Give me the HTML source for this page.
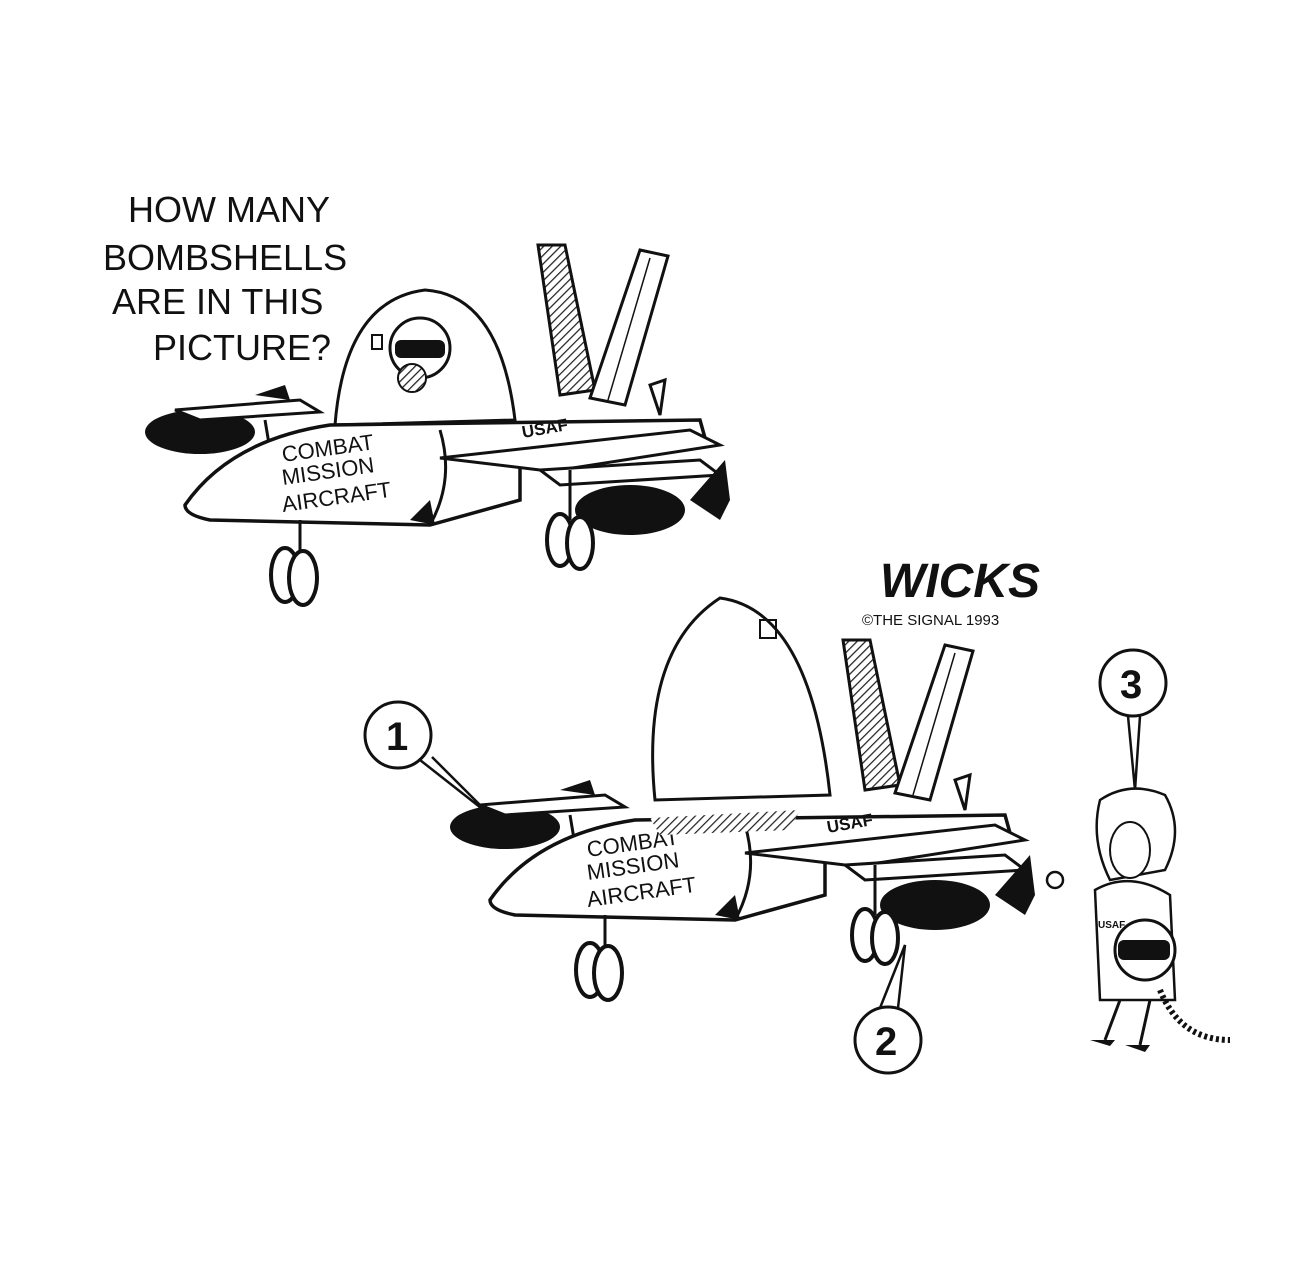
<!DOCTYPE html>
<html><head><meta charset="utf-8">
<style>
html,body{margin:0;padding:0;background:#fff;}
svg{display:block;}
text{font-family:"Liberation Sans",sans-serif;font-weight:bold;fill:#111;}
text.n{font-weight:normal;}
</style></head>
<body>
<svg width="1314" height="1284" viewBox="0 0 1314 1284" xmlns="http://www.w3.org/2000/svg">
<defs>
<pattern id="h" width="6" height="6" patternUnits="userSpaceOnUse" patternTransform="rotate(45)">
<rect width="6" height="6" fill="#fff"/><line x1="0" y1="0" x2="0" y2="6" stroke="#222" stroke-width="2.5"/></pattern>
<g id="plane">
 <ellipse cx="200" cy="432" rx="55" ry="22" fill="#111"/>
 <polygon points="175,410 300,400 320,412 200,420" fill="#fff" stroke="#111" stroke-width="3"/>
 <polygon points="255,395 285,385 290,400" fill="#111"/>
 <line x1="265" y1="420" x2="270" y2="450" stroke="#111" stroke-width="3"/>
 <polygon points="538,245 565,245 595,390 560,395" fill="url(#h)" stroke="#111" stroke-width="3"/>
 <polygon points="640,250 668,256 625,405 590,398" fill="#fff" stroke="#111" stroke-width="3"/>
 <line x1="650" y1="258" x2="608" y2="400" stroke="#111" stroke-width="1.5"/>
 <polygon points="650,385 665,380 660,415" fill="#fff" stroke="#111" stroke-width="3"/>
 <path d="M185,505 Q230,440 330,425 L700,420 L705,438 L520,460 L520,500 L430,525 L210,520 Q185,515 185,505 Z" fill="#fff" stroke="#111" stroke-width="3.5"/>
 <path d="M440,430 Q455,480 430,525" fill="none" stroke="#111" stroke-width="3"/>
 <polygon points="410,520 430,500 435,525" fill="#111"/>
 <polygon points="440,458 690,430 720,445 560,470 540,470" fill="#fff" stroke="#111" stroke-width="3"/>
 <polygon points="540,470 700,460 720,475 560,485" fill="#fff" stroke="#111" stroke-width="3"/>
 <ellipse cx="630" cy="510" rx="55" ry="25" fill="#111"/>
 <polygon points="690,500 725,460 730,500 720,520" fill="#111"/>
 <line x1="300" y1="520" x2="300" y2="555" stroke="#111" stroke-width="3"/>
 <ellipse cx="285" cy="575" rx="14" ry="27" fill="#fff" stroke="#111" stroke-width="4"/>
 <ellipse cx="303" cy="578" rx="14" ry="27" fill="#fff" stroke="#111" stroke-width="4"/>
 <line x1="570" y1="470" x2="570" y2="520" stroke="#111" stroke-width="3"/>
 <ellipse cx="560" cy="540" rx="13" ry="26" fill="#fff" stroke="#111" stroke-width="4"/>
 <ellipse cx="580" cy="543" rx="13" ry="26" fill="#fff" stroke="#111" stroke-width="4"/>
 <text class="n" transform="translate(283,462) rotate(-8)" font-size="22">COMBAT</text>
 <text class="n" transform="translate(283,485) rotate(-8)" font-size="22">MISSION</text>
 <text class="n" transform="translate(283,512) rotate(-8)" font-size="22">AIRCRAFT</text>
 <text transform="translate(523,438) rotate(-10)" font-size="17">USAF</text>
</g>
</defs>

<text class="n" x="128" y="222" font-size="36">HOW MANY</text>
<text class="n" x="103" y="270" font-size="36">BOMBSHELLS</text>
<text class="n" x="112" y="314" font-size="36">ARE IN THIS</text>
<text class="n" x="153" y="360" font-size="36">PICTURE?</text>

<path d="M335,425 Q345,300 425,290 Q500,295 515,420 Z" fill="#fff" stroke="#111" stroke-width="3"/>
<rect x="372" y="335" width="10" height="14" fill="none" stroke="#111" stroke-width="2"/>
<circle cx="420" cy="348" r="30" fill="#fff" stroke="#111" stroke-width="3"/>
<rect x="395" y="340" width="50" height="18" rx="6" fill="#111"/>
<ellipse cx="412" cy="378" rx="14" ry="14" fill="url(#h)" stroke="#111" stroke-width="2"/>
<use href="#plane"/>

<text x="880" y="597" font-size="48" font-style="italic">WICKS</text>
<text class="n" x="862" y="625" font-size="15">©THE SIGNAL 1993</text>

<use href="#plane" transform="translate(305,395)"/>
<path d="M655,800 Q640,650 720,598 Q810,610 830,795 Z" fill="#fff" stroke="#111" stroke-width="3"/>
<rect x="760" y="620" width="16" height="18" fill="none" stroke="#111" stroke-width="2"/>
<polygon points="650,818 800,810 790,830 660,835" fill="url(#h)"/>

<circle cx="398" cy="735" r="33" fill="#fff" stroke="#111" stroke-width="3"/>
<text x="386" y="750" font-size="40">1</text>
<polyline points="420,760 490,815 432,757" fill="none" stroke="#111" stroke-width="2.5"/>
<circle cx="888" cy="1040" r="33" fill="#fff" stroke="#111" stroke-width="3"/>
<text x="875" y="1055" font-size="40">2</text>
<polyline points="880,1008 905,945 898,1008" fill="none" stroke="#111" stroke-width="2.5"/>
<circle cx="1133" cy="683" r="33" fill="#fff" stroke="#111" stroke-width="3"/>
<text x="1120" y="698" font-size="40">3</text>
<polyline points="1128,716 1135,790 1140,716" fill="none" stroke="#111" stroke-width="2.5"/>

<path d="M1100,800 Q1130,780 1165,795 Q1185,830 1165,870 L1110,880 Q1090,840 1100,800 Z" fill="#fff" stroke="#111" stroke-width="2.5"/>
<ellipse cx="1130" cy="850" rx="20" ry="28" fill="#fff" stroke="#111" stroke-width="2"/>
<path d="M1095,890 Q1130,870 1170,895 L1175,1000 L1100,1000 Z" fill="#fff" stroke="#111" stroke-width="2.5"/>
<text x="1098" y="928" font-size="10">USAF</text>
<circle cx="1145" cy="950" r="30" fill="#fff" stroke="#111" stroke-width="3"/>
<rect x="1118" y="940" width="52" height="20" rx="6" fill="#111"/>
<line x1="1120" y1="1000" x2="1105" y2="1040" stroke="#111" stroke-width="3"/>
<line x1="1150" y1="1000" x2="1140" y2="1045" stroke="#111" stroke-width="3"/>
<polygon points="1090,1040 1115,1040 1110,1046" fill="#111"/>
<polygon points="1125,1045 1150,1045 1145,1052" fill="#111"/>
<path d="M1160,990 Q1180,1040 1230,1040" fill="none" stroke="#111" stroke-width="6" stroke-dasharray="3 3"/>
<circle cx="1055" cy="880" r="8" fill="#fff" stroke="#111" stroke-width="2.5"/>
</svg>
</body></html>
